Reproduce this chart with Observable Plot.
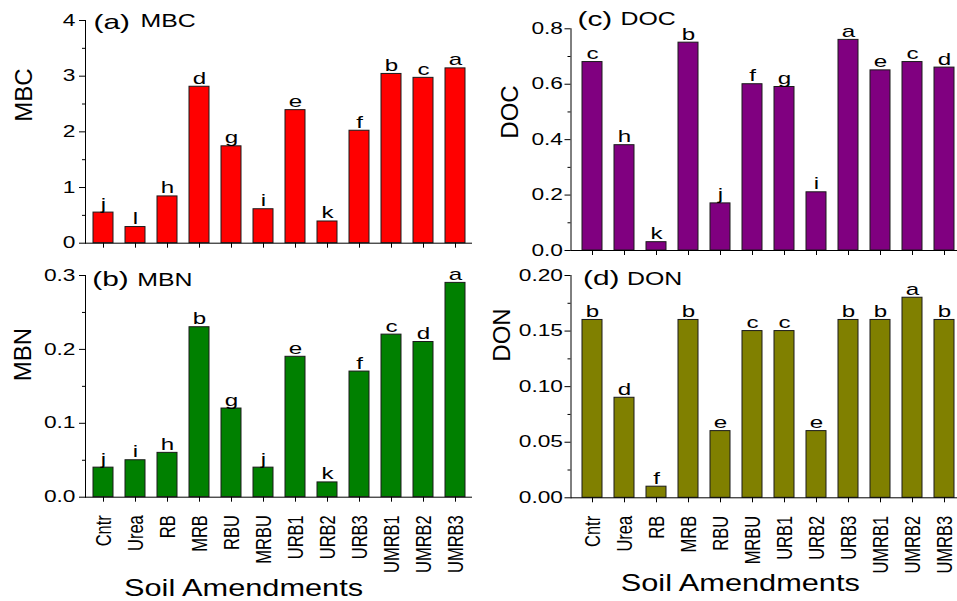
<!DOCTYPE html>
<html><head><meta charset="utf-8">
<script src="https://cdn.jsdelivr.net/npm/d3@7"></script>
<script src="https://cdn.jsdelivr.net/npm/@observablehq/plot@0.6"></script>
<style>
html,body{margin:0;padding:0;background:#fff;}
#chart{position:relative;width:957px;height:601px;overflow:hidden;background:#fff;}
#chart svg{position:absolute;left:0;top:0;}
#chart g[aria-label="x-axis tick label"] text{font-size:16.5px;}
#chart g[aria-label="y-axis tick label"] text{font-size:16px;}
</style></head><body><div id="chart"></div>
<script>
const categories = ["Cntr","Urea","RB","MRB","RBU","MRBU","URB1","URB2","URB3","UMRB1","UMRB2","UMRB3"];
const mbc = [0.55,0.29,0.84,2.81,1.74,0.61,2.39,0.39,2.02,3.04,2.97,3.14];
const mbcLetters = ["j","l","h","d","g","i","e","k","f","b","c","a"];
const mbn = [0.04,0.05,0.06,0.23,0.12,0.04,0.19,0.02,0.17,0.22,0.21,0.29];
const mbnLetters = ["j","i","h","b","g","j","e","k","f","c","d","a"];
const doc = [0.68,0.38,0.03,0.75,0.17,0.60,0.59,0.21,0.76,0.65,0.68,0.66];
const docLetters = ["c","h","k","b","j","f","g","i","a","e","c","d"];
const don = [0.16,0.09,0.01,0.16,0.06,0.15,0.15,0.06,0.16,0.16,0.18,0.16];
const donLetters = ["b","d","f","b","e","c","c","e","b","b","a","b"];

const ticksMBC = [0,1,2,3,4];
const minorMBC = [0.5,1.5,2.5,3.5];
const ticksMBN = [0,0.1,0.2,0.3];
const minorMBN = [0.05,0.15,0.25];
const ticksDOC = [0,0.2,0.4,0.6,0.8];
const minorDOC = [0.1,0.3,0.5,0.7];
const ticksDON = [0,0.05,0.10,0.15,0.20];
const minorDON = [0.025,0.075,0.125,0.175];

const xTitle = "Soil Amendments";

const panels = [
  {values: mbc, letters: mbcLetters, color: "#ff0000", yMax: 4, major: ticksMBC, minor: minorMBC, fmt: "d",
   tag: "(a)", name: "MBC", title: "MBC", bottom: false,
   width: 957, mL: 85, mR: 485, mT: 20, mB: 358.3, inset: 0, tp: 4,
   tdx: -61, tdy: -10, gdx: 8, gdy: 2, ndx: 55, ndy: 1},
  {values: mbn, letters: mbnLetters, color: "#008000", yMax: 0.3, major: ticksMBN, minor: minorMBN, fmt: ".1f",
   tag: "(b)", name: "MBN", title: "MBN", bottom: true,
   width: 957, mL: 85, mR: 485, mT: 275, mB: 104.3, inset: 0, tp: 4,
   tdx: -62.5, tdy: -5, gdx: 6.7, gdy: 3.5, ndx: 51.7, ndy: 5, xdx: -35.5, xdy: 90.9},
  {values: doc, letters: docLetters, color: "#800080", yMax: 0.8, major: ticksDOC, minor: minorDOC, fmt: ".1f",
   tag: "(c)", name: "DOC", title: "DOC", bottom: false,
   width: 962, mL: 570.5, mR: 1, mT: 28.3, mB: 351, inset: 4, tp: 2,
   tdx: -60.5, tdy: -1, gdx: 6.5, gdy: -9.3, ndx: 49.5, ndy: -9.8},
  {values: don, letters: donLetters, color: "#808000", yMax: 0.2, major: ticksDON, minor: minorDON, fmt: ".2f",
   tag: "(d)", name: "DON", title: "DON", bottom: true,
   width: 962, mL: 570.5, mR: 1, mT: 275, mB: 103.7, inset: 4, tp: 2,
   tdx: -68.5, tdy: -25, gdx: 12, gdy: 2.5, ndx: 56, ndy: 3.5, xdx: -26, xdy: 85.3}
];

const chart = document.getElementById("chart");

function makePanel(p) {
  const data = categories.map((c, i) => ({cat: c, v: p.values[i], lab: p.letters[i]}));
  const marks = [
    Plot.barY(data, {x: "cat", y: "v", fill: p.color, stroke: "#1a1a1a", strokeWidth: 1}),
    Plot.text(data, {x: "cat", y: "v", text: "lab", dy: -3, lineAnchor: "bottom", fontSize: 17, fill: "#000"}),
    Plot.ruleY([0], {stroke: "#000", strokeWidth: 1}),
    Plot.frame({anchor: "left", stroke: "#000", strokeWidth: 1}),
    Plot.axisY(p.major, {tickSize: 6, tickPadding: p.tp, tickFormat: d3.format(p.fmt), label: null, stroke: "#000", fill: "#000"}),
    Plot.axisY(p.minor, {tickSize: 3, tickFormat: () => "", label: null, stroke: "#000"}),
    p.bottom
      ? Plot.axisX({tickSize: 5, tickPadding: 13, tickRotate: -90, label: null, stroke: "#000", fill: "#000"})
      : Plot.axisX({tickSize: 5, tickFormat: () => "", label: null, stroke: "#000"}),
    Plot.text([p.title], {text: d => d, frameAnchor: "left", dx: p.tdx, dy: p.tdy, rotate: -90, fontSize: 24, fill: "#000"}),
    Plot.text([p.tag], {text: d => d, frameAnchor: "top-left", dx: p.gdx, dy: p.gdy, textAnchor: "start", lineAnchor: "middle", fontSize: 21, fill: "#000"}),
    Plot.text([p.name], {text: d => d, frameAnchor: "top-left", dx: p.ndx, dy: p.ndy, textAnchor: "start", lineAnchor: "middle", fontSize: 17.5, fill: "#000"})
  ];
  if (p.bottom) {
    marks.push(Plot.text([xTitle], {text: d => d, frameAnchor: "bottom", dx: p.xdx, dy: p.xdy, lineAnchor: "middle", fontSize: 24, fill: "#000"}));
  }
  return Plot.plot({
    width: p.width, height: 601,
    marginLeft: p.mL, marginRight: p.mR, marginTop: p.mT, marginBottom: p.mB,
    x: {domain: categories, paddingInner: 0.38, paddingOuter: 0.19, insetLeft: p.inset, label: null},
    y: {domain: [0, p.yMax], label: null},
    style: {background: "none", maxWidth: "none", fontFamily: "'Liberation Sans', Arial, sans-serif", fontSize: "15px", color: "#000", overflow: "visible"},
    marks
  });
}

function stretch(svg) {
  svg.querySelectorAll("text").forEach(t => {
    const tr = t.getAttribute("transform") || "";
    const g = t.closest("g[aria-label]");
    const glabel = g ? g.getAttribute("aria-label") : "";
    if (/rotate/.test(tr)) {
      if (glabel === "x-axis tick label") {
        t.setAttribute("transform", tr.replace("rotate(", "scale(1.35,1) rotate("));
      }
      return;
    }
    if (/rotate/.test(t.parentNode.getAttribute("transform") || "")) return;
    const f = t.textContent === xTitle ? 1.28 : 1.42;
    const L = t.getComputedTextLength();
    if (L > 0) {
      t.setAttribute("textLength", (L * f).toFixed(2));
      t.setAttribute("lengthAdjust", "spacingAndGlyphs");
    }
  });
}

panels.forEach(p => {
  const svg = makePanel(p);
  chart.appendChild(svg);
  stretch(svg);
});
</script></body></html>
